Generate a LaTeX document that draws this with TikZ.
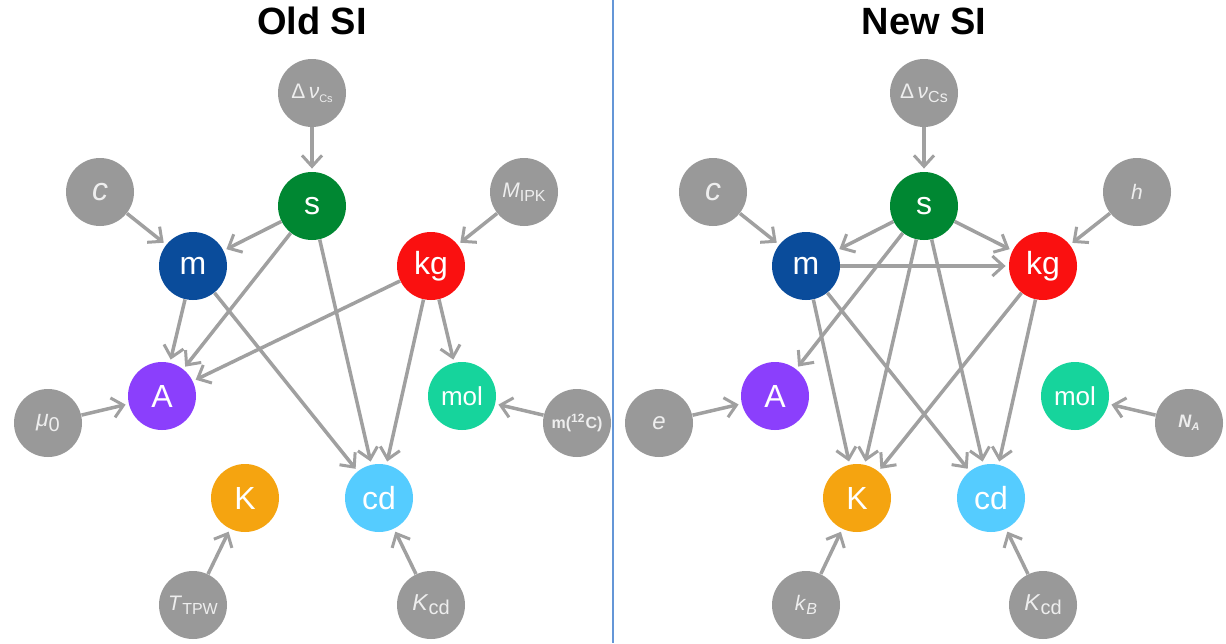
\documentclass[tikz,border=0pt]{standalone}
\usepackage{fontspec}
\setmainfont{Liberation Sans}
\usetikzlibrary{arrows.meta}
\definecolor{gnode}{RGB}{153,153,153}
\definecolor{gedge}{RGB}{160,160,160}
\definecolor{gtext}{RGB}{238,238,238}
\definecolor{cS}{RGB}{0,135,50}
\definecolor{cM}{RGB}{10,76,155}
\definecolor{cKG}{RGB}{250,16,16}
\definecolor{cA}{RGB}{139,63,252}
\definecolor{cMOL}{RGB}{22,212,156}
\definecolor{cK}{RGB}{245,164,16}
\definecolor{cCD}{RGB}{85,204,255}
\definecolor{divider}{RGB}{100,150,215}
\newcommand{\sub}[1]{\raisebox{-0.35ex}{\fontsize{8}{8}\selectfont #1}}
\newcommand{\subs}[1]{\raisebox{-0.35ex}{\fontsize{5.5}{5.5}\selectfont #1}}
\begin{document}
\begin{tikzpicture}[x=0.5pt,y=-0.5pt,
  unit/.style={circle,minimum size=34pt,inner sep=0pt,text=white,font=\fontsize{16}{16}\selectfont},
  const/.style={circle,fill=gnode,minimum size=34pt,inner sep=0pt,text=gtext,font=\fontsize{10.5}{10.5}\selectfont},
  edge/.style={draw=gedge,line width=1.75pt,-{Straight Barb[length=5.5pt,width=10pt,line width=1.5pt]},shorten >=1.5pt},
  title/.style={font=\bfseries\fontsize{19}{19}\selectfont}]
\useasboundingbox (0,0) rectangle (1226,643);
\fill[white] (0,0) rectangle (1226,643);
\draw[divider,line width=0.7pt] (613,0) -- (613,643);
\node[title] (t1) at (312,21) {Old SI};
\node[title] (t2) at (924,21) {New SI};

% ---------- Old SI ----------
\node[const] (dv1) at (312,93) {Δ\,\textit{ν}\subs{Cs}};
\node[unit,fill=cS] (s1) at (312,206) {s};
\node[const,font=\fontsize{16}{16}\selectfont] (c1) at (100,192) {\textit{c}};
\node[const] (M1) at (524,192) {\textit{M}\sub{IPK}};
\node[unit,fill=cM] (m1) at (193,266) {m};
\node[unit,fill=cKG] (kg1) at (431,266) {kg};
\node[unit,fill=cA] (A1) at (162,396) {A};
\node[unit,fill=cMOL,font=\fontsize{13}{13}\selectfont] (mol1) at (462,396) {mol};
\node[const,font=\fontsize{11.5}{11.5}\selectfont] (mu1) at (48,423) {\textit{μ}\sub{\fontsize{10}{10}\selectfont 0}};
\node[const,font=\bfseries\fontsize{8}{8}\selectfont] (C12) at (577,423) {m(\textsuperscript{12}C)};
\node[unit,fill=cK] (K1) at (245,498) {K};
\node[unit,fill=cCD] (cd1) at (379,498) {cd};
\node[const] (T1) at (193,605) {\textit{T}\sub{TPW}};
\node[const,font=\fontsize{11.5}{11.5}\selectfont] (Kcd1) at (431,605) {\textit{K}\sub{\fontsize{10}{10}\selectfont cd}};

\draw[edge] (dv1) -- (s1);
\draw[edge] (c1) -- (m1);
\draw[edge] (M1) -- (kg1);
\draw[edge] (s1) -- (m1);
\draw[edge] (s1) -- (A1);
\draw[edge] (s1) -- (cd1);
\draw[edge] (m1) -- (A1);
\draw[edge] (m1) -- (cd1);
\draw[edge] (kg1) -- (A1);
\draw[edge] (kg1) -- (cd1);
\draw[edge] (kg1) -- (mol1);
\draw[edge] (mu1) -- (A1);
\draw[edge] (C12) -- (mol1);
\draw[edge] (T1) -- (K1);
\draw[edge] (Kcd1) -- (cd1);

% ---------- New SI ----------
\node[const] (dv2) at (924,93) {Δ\,\textit{ν}\sub{Cs}};
\node[unit,fill=cS] (s2) at (924,206) {s};
\node[const,font=\fontsize{16}{16}\selectfont] (c2) at (713,192) {\textit{c}};
\node[const] (h2) at (1137,192) {\textit{h}};
\node[unit,fill=cM] (m2) at (806,266) {m};
\node[unit,fill=cKG] (kg2) at (1043,266) {kg};
\node[unit,fill=cA] (A2) at (775,396) {A};
\node[unit,fill=cMOL,font=\fontsize{13}{13}\selectfont] (mol2) at (1075,396) {mol};
\node[const,font=\fontsize{12}{12}\selectfont] (e2) at (659,423) {\textit{e}};
\node[const,font=\bfseries\fontsize{9}{9}\selectfont] (NA2) at (1189,423) {\textit{N}\subs{\textit{A}}};
\node[unit,fill=cK] (K2) at (857,498) {K};
\node[unit,fill=cCD] (cd2) at (991,498) {cd};
\node[const] (kB2) at (806,605) {\textit{k}\sub{\textit{B}}};
\node[const,font=\fontsize{11.5}{11.5}\selectfont] (Kcd2) at (1043,605) {\textit{K}\sub{\fontsize{10}{10}\selectfont cd}};

\draw[edge] (dv2) -- (s2);
\draw[edge] (c2) -- (m2);
\draw[edge] (h2) -- (kg2);
\draw[edge] (s2) -- (m2);
\draw[edge] (s2) -- (kg2);
\draw[edge] (m2) -- (kg2);
\draw[edge] (s2) -- (A2);
\draw[edge] (s2) -- (K2);
\draw[edge] (s2) -- (cd2);
\draw[edge] (m2) -- (K2);
\draw[edge] (m2) -- (cd2);
\draw[edge] (kg2) -- (K2);
\draw[edge] (kg2) -- (cd2);
\draw[edge] (e2) -- (A2);
\draw[edge] (NA2) -- (mol2);
\draw[edge] (kB2) -- (K2);
\draw[edge] (Kcd2) -- (cd2);
\end{tikzpicture}
\end{document}
